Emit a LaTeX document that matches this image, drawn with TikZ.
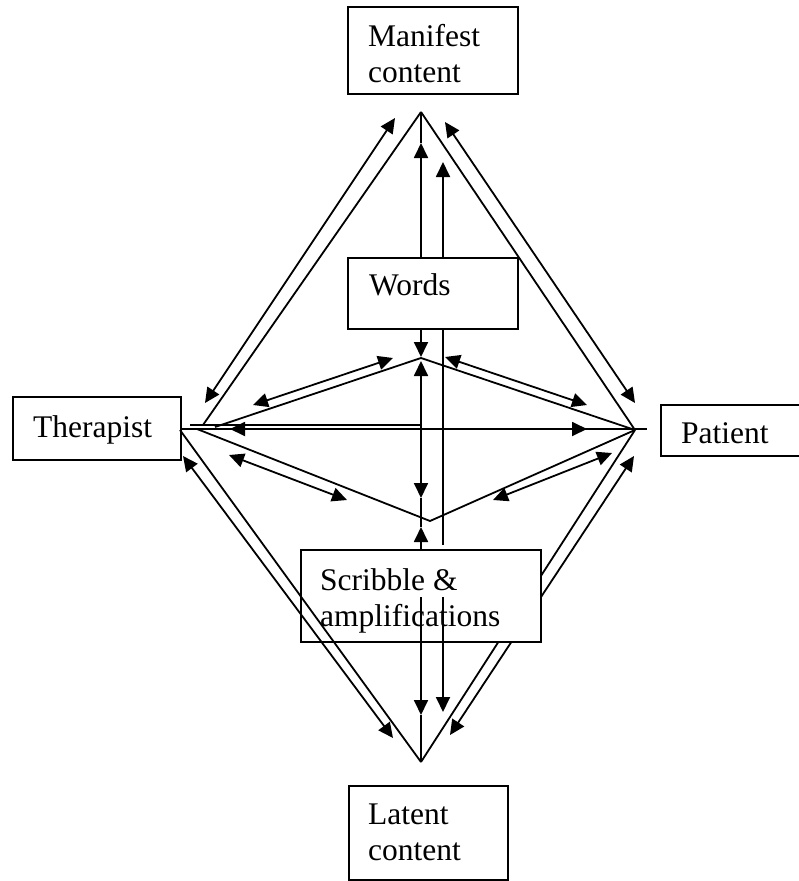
\documentclass[tikz,border=0pt]{standalone}
\usepackage{fontspec}
\setmainfont{Liberation Serif}
\usetikzlibrary{arrows.meta}
\tikzset{
  ln/.style={line width=1.8pt},
  tipA/.tip={Triangle[length=15pt,width=14pt]},
  arr/.style={ln, -tipA},
  darr/.style={ln, tipA-tipA},
  box/.style={draw, line width=1.9pt, fill=white, inner sep=0pt, anchor=north west},
  txt/.style={anchor=base west, inner sep=0pt, font=\fontsize{31.5}{36}\selectfont}
}
\begin{document}
\begin{tikzpicture}[x=1pt,y=-1pt]
\useasboundingbox (0,0) rectangle (798,881);
% key points
\coordinate (T) at (421,112);
\coordinate (B) at (421,762);
\coordinate (R) at (635,430);
\coordinate (Lt) at (203,425);
\coordinate (Lb) at (180,430);
\coordinate (IT) at (421,358);
\coordinate (IB) at (430,521);
\coordinate (ILt) at (215,427);
\coordinate (ILb) at (197,429);
% outer arrow ends
\coordinate (oa1) at (205,403); \coordinate (oa2) at (395,118);
\coordinate (ob1) at (445,122); \coordinate (ob2) at (635,403);
\coordinate (oc1) at (183,456); \coordinate (oc2) at (393,738);
\coordinate (od1) at (634,456); \coordinate (od2) at (450,735);
% inner arrow ends
\coordinate (ia1) at (253,405); \coordinate (ia2) at (393,358);
\coordinate (ib1) at (445,357); \coordinate (ib2) at (587,405);
\coordinate (ic1) at (229,455); \coordinate (ic2) at (347,500);
\coordinate (id1) at (493,500); \coordinate (id2) at (612,453);
% horizontal
\coordinate (h1) at (190,425); \coordinate (h2) at (421,425);
\coordinate (h3) at (180,429); \coordinate (h4) at (647,429);
\coordinate (ha1) at (230,429); \coordinate (ha2) at (587,429);
% verticals
\coordinate (v1) at (421,143);
\coordinate (v2) at (443,162);
\coordinate (v3) at (421,357);
\coordinate (v4) at (421,361);
\coordinate (v5) at (421,498);
\coordinate (v6) at (421,527);
\coordinate (v7) at (443,545);
\coordinate (v8) at (421,597);
\coordinate (v9) at (443,597);
\coordinate (v10) at (421,715);
\coordinate (v11) at (443,712);

% right-side lines hidden by the scribble box
\draw[ln] (R) -- (B);
\draw[darr] (od1) -- (od2);

% boxes
\node[box, minimum width=170pt, minimum height=87pt] (man) at (347,6) {};
\node[box, minimum width=170pt, minimum height=71pt] (words) at (347,257) {};
\node[box, minimum width=168pt, minimum height=63pt] (ther) at (12,396) {};
\node[box, minimum width=150pt, minimum height=51pt] (pat) at (660,404) {};
\node[box, minimum width=240pt, minimum height=92pt] (scr) at (300,549) {};
\node[box, minimum width=159pt, minimum height=94pt] (lat) at (348,785) {};

% texts
\node[txt] (mant1) at (368,46) {Manifest};
\node[txt] (mant2) at (368,82) {content};
\node[txt] (wordst) at (369,295) {Words};
\node[txt] (thert) at (33,437) {Therapist};
\node[txt] (patt) at (681,443) {Patient};
\node[txt] (scrt1) at (320,590) {Scribble \&};
\node[txt] (scrt2) at (320,626) {amplifications};
\node[txt] (latt1) at (368,824) {Latent};
\node[txt] (latt2) at (368,860) {content};

% outer diamond
\draw[ln] (T) -- (Lt);
\draw[ln] (T) -- (R);
\draw[ln] (Lb) -- (B);
% outer arrows
\draw[darr] (oa1) -- (oa2);
\draw[darr] (ob1) -- (ob2);
\draw[darr] (oc1) -- (oc2);

% inner diamond
\draw[ln] (ILt) -- (IT) -- (R);
\draw[ln] (ILb) -- (IB) -- (R);
% inner arrows
\draw[darr] (ia1) -- (ia2);
\draw[darr] (ib1) -- (ib2);
\draw[darr] (ic1) -- (ic2);
\draw[darr] (id1) -- (id2);

% horizontal
\draw[ln] (h1) -- (h2);
\draw[ln] (h3) -- (h4);
\draw[darr] (ha1) -- (ha2);

% verticals
\draw[arr] (words.north -| v1) -- (v1);
\draw[ln] (v1) -- (T);
\draw[arr] (words.north -| v2) -- (v2);
\draw[arr] (words.south -| v3) -- (v3);
\draw[darr] (v4) -- (v5);
\draw[ln] (v5) -- (v6);
\draw[arr] (scr.north -| v6) -- (v6);
\draw[ln] (words.south -| v7) -- (v7);
\draw[arr] (v8) -- (v10);
\draw[ln] (v10) -- (B);
\draw[arr] (v9) -- (v11);
\end{tikzpicture}
\end{document}
